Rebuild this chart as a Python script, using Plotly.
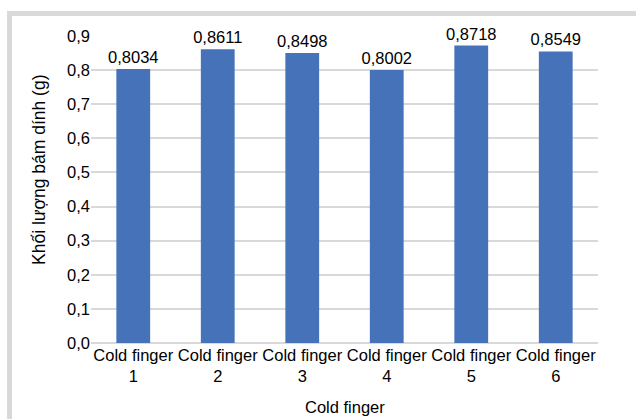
import plotly.graph_objects as go

categories = ["Cold finger<br>1", "Cold finger<br>2", "Cold finger<br>3",
              "Cold finger<br>4", "Cold finger<br>5", "Cold finger<br>6"]
values = [0.8034, 0.8611, 0.8498, 0.8002, 0.8718, 0.8549]
y_ticks = [0.0, 0.1, 0.2, 0.3, 0.4, 0.5, 0.6, 0.7, 0.8, 0.9]
x_title = "Cold finger"
y_title = "Khối lượng bám dính (g)"

FONT = "Liberation Sans, Arial, sans-serif"
L, R, T, B = 91, 38, 36, 76
W, H = 636, 419
pw, ph = W - L - R, H - T - B

def px(x):
    return (x - L) / pw

def py(y):
    return (H - B - y) / ph

def f(size):
    return dict(family=FONT, size=size, color="#000000")

fig = go.Figure(go.Bar(
    x=categories, y=values,
    marker=dict(color="#4672BA", line=dict(width=0)),
    texttemplate="%{y:.4f}", textposition="outside",
    textfont=f(16.5), constraintext="none",
    cliponaxis=False,
))

border = "#d9d9d9"
fig.add_shape(type="rect", xref="paper", yref="paper",
              x0=px(7), x1=px(640), y0=py(16), y1=py(11),
              fillcolor=border, line=dict(width=0), layer="below")
fig.add_shape(type="rect", xref="paper", yref="paper",
              x0=px(7), x1=px(12), y0=py(425), y1=py(11),
              fillcolor=border, line=dict(width=0), layer="below")

fig.add_annotation(text=y_title, xref="paper", yref="paper",
                   x=px(39), y=py(170), textangle=-90, showarrow=False,
                   xanchor="center", yanchor="middle", font=f(17.5))
fig.add_annotation(text=x_title, xref="paper", yref="paper",
                   x=px(345), y=py(407), showarrow=False,
                   xanchor="center", yanchor="middle", font=f(16.5))

fig.update_layout(
    width=W, height=H,
    margin=dict(l=L, r=R, t=T, b=B, autoexpand=False),
    paper_bgcolor="white", plot_bgcolor="white",
    separators=",.",
    bargap=0.6,
    showlegend=False,
    font=f(16.5),
    xaxis=dict(
        automargin=False,
        tickfont=f(16.5), tickangle=0,
        showgrid=False, showline=False, ticks="",
    ),
    yaxis=dict(
        automargin=False,
        range=[0, 0.9], tickvals=y_ticks, tickformat=".1f",
        tickfont=f(16.5),
        showgrid=True, gridcolor="#d9d9d9", gridwidth=1.5,
        zeroline=True, zerolinecolor="#d9d9d9", zerolinewidth=1.5,
        showline=False, ticks="", ticklen=0,
    ),
)

fig.write_html(
    "out.html",
    config={"displayModeBar": False},
    post_script="document.body.style.margin='0';document.body.style.padding='0';",
)
